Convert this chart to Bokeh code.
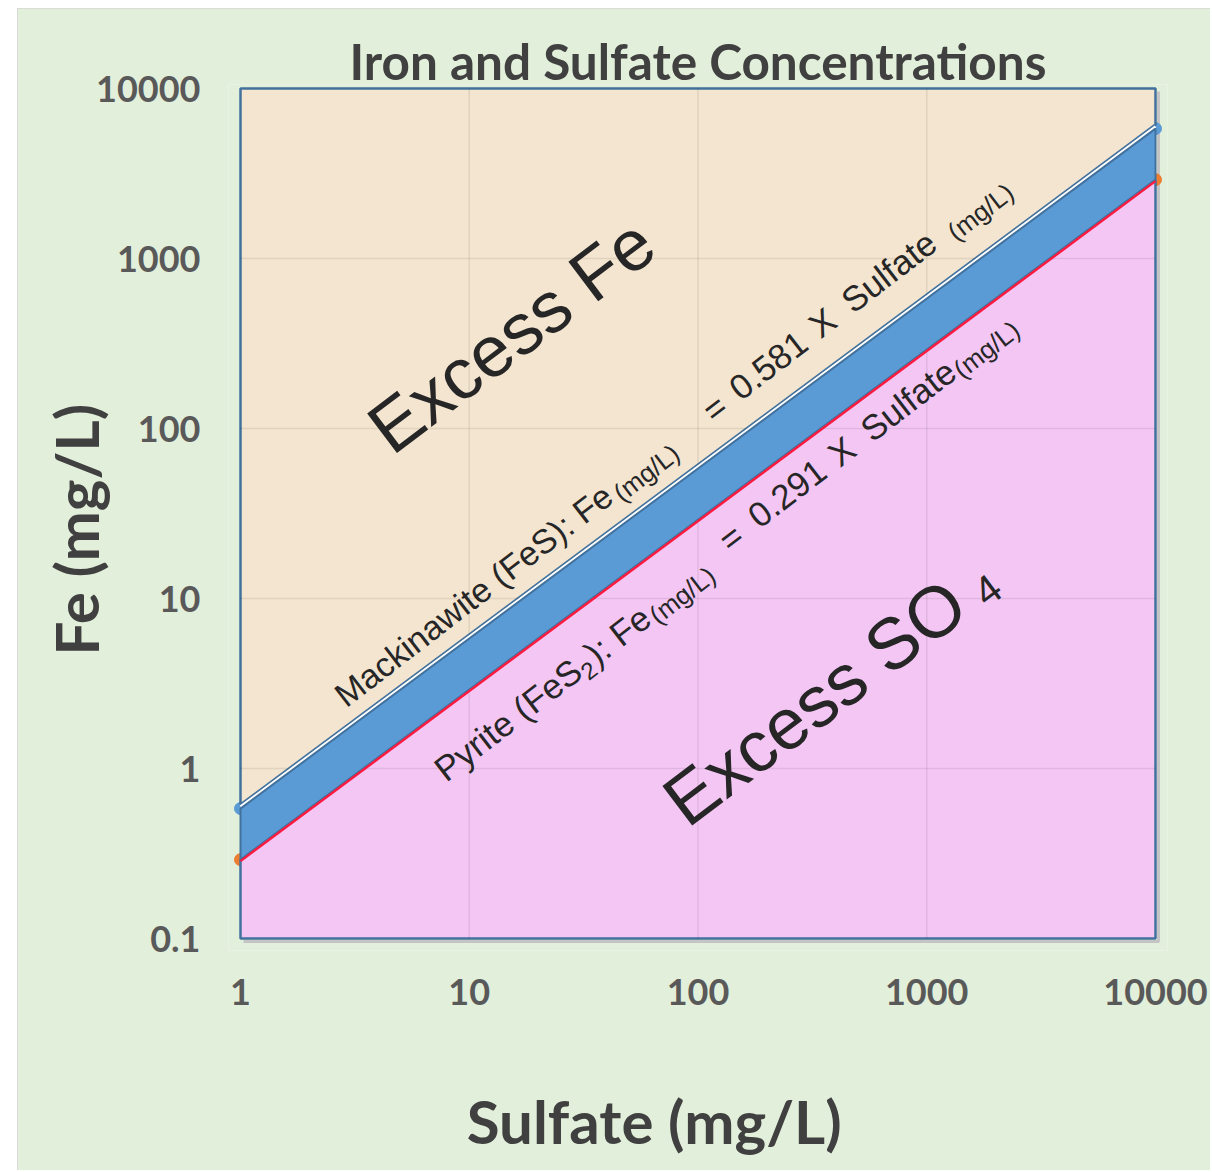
import math
from bokeh.plotting import figure
from bokeh.models import Label, FixedTicker, Range1d, NumeralTickFormatter, Title, Spacer
from bokeh.layouts import row, column
from bokeh.embed import file_html
from bokeh.resources import INLINE

# ---------------- data ----------------
sulfate_ends = [1, 10000]          # mg/L, ends of both stoichiometric lines
mackinawite_ratio = 0.581          # Fe = 0.581 x Sulfate (FeS)
pyrite_ratio = 0.291               # Fe = 0.291 x Sulfate (FeS2)
fe_floor = 0.1
fe_ceiling = 10000
x_ticks = [1, 10, 100, 1000, 10000]
x_tick_labels = ["1", "10", "100", "1000", "10000"]
y_ticks = [0.1, 1, 10, 100, 1000, 10000]
y_tick_labels = ["0.1", "1", "10", "100", "1000", "10000"]

mack_fe = [mackinawite_ratio * s for s in sulfate_ends]
pyr_fe = [pyrite_ratio * s for s in sulfate_ends]

# ---------------- layout ----------------
PX_DEC_X = 228.75
PX_DEC_Y = 170.0
PAD_L, PAD_R, PAD_T, PAD_B = 12, 12, 4, 12
lx0, lx1 = math.log10(sulfate_ends[0]), math.log10(sulfate_ends[1])
ly0, ly1 = math.log10(fe_floor), math.log10(fe_ceiling)
frame_w = round((lx1 - lx0) * PX_DEC_X + PAD_L + PAD_R)
frame_h = round((ly1 - ly0) * PX_DEC_Y + PAD_T + PAD_B)
OFF_X, OFF_Y = 17, 8                # white page strip left/top of the chart area
W, H = 1193, 1162
BL, BT = 240 - PAD_L - OFF_X, 88 - PAD_T - OFF_Y

GREEN = "#e2efda"
TAN = "#f3e5d0"
PINK = "#f4c6f4"
BAND = "#5b9bd5"
EDGE = "#41719c"
ORANGE = "#ed7d31"
HEAD = "#404040"

p = figure(width=W, height=H, x_axis_type="log", y_axis_type="log",
           output_backend="svg", toolbar_location=None,
           x_range=Range1d(10 ** (lx0 - PAD_L / PX_DEC_X), 10 ** (lx1 + PAD_R / PX_DEC_X)),
           y_range=Range1d(10 ** (ly0 - PAD_B / PX_DEC_Y), 10 ** (ly1 + PAD_T / PX_DEC_Y)),
           min_border_left=BL, min_border_top=BT,
           min_border_right=W - BL - frame_w, min_border_bottom=H - BT - frame_h)
p.styles = {"outline": "2px solid #d6d6d6", "outline-offset": "-2px"}
p.background_fill_color = GREEN
p.border_fill_color = GREEN
p.outline_line_color = None
p.grid.visible = False

# chart title
p.title.text = "Iron and Sulfate Concentrations"
p.title.align = "center"
p.title.text_font = "Lato"
p.title.text_font_style = "bold"
p.title.text_font_size = "49.5px"
p.title.text_color = HEAD
p.title.standoff = -12

# axes
for ax, ticks, labels in ((p.xaxis, x_ticks, x_tick_labels), (p.yaxis, y_ticks, y_tick_labels)):
    ax.ticker = FixedTicker(ticks=ticks, minor_ticks=[])
    ax.formatter = NumeralTickFormatter(format="0.[0]")
    ax.major_label_overrides = {t: l for t, l in zip(ticks, labels)}
    ax.axis_line_color = None
    ax.major_tick_line_color = None
    ax.minor_tick_line_color = None
    ax.major_tick_out = 0
    ax.major_label_text_font = "Lato"
    ax.major_label_text_font_style = "bold"
    ax.major_label_text_font_size = "36px"
    ax.major_label_text_color = "#595959"
p.xaxis.major_label_standoff = 28
p.yaxis.major_label_standoff = 28

# axis titles (x title sits left of centre, as in the original)
p.xaxis.axis_label = "Sulfate (mg/L)" + "\u00a0" * 6
p.xaxis.axis_label_standoff = 77
p.xaxis.axis_label_text_font = "Lato"
p.xaxis.axis_label_text_font_style = "bold"
p.xaxis.axis_label_text_font_size = "60px"
p.xaxis.axis_label_text_color = HEAD
p.add_layout(Title(text="Fe (mg/L)", align="left", offset=295, standoff=-37,
                   text_font="Lato", text_font_style="bold", text_font_size="60px",
                   text_color=HEAD), "left")

# drop shadow of the regions, then series end points (beneath the regions)
sh_x = 10 ** (3 / PX_DEC_X)
sh_y = 10 ** (3 / PX_DEC_Y)
p.line([sulfate_ends[0] * sh_x, sulfate_ends[1] * sh_x, sulfate_ends[1] * sh_x],
       [fe_floor / sh_y, fe_floor / sh_y, fe_ceiling / sh_y], line_color="#c4c4c4", line_width=3)
p.scatter(sulfate_ends, mack_fe, size=12, color=BAND)
p.scatter(sulfate_ends, pyr_fe, size=12, color=ORANGE)

# regions
gap1 = 10 ** (4 / PX_DEC_Y)   # tan border sits just above the FeS line
gap2 = 10 ** (2 / PX_DEC_Y)   # white separating line
p.patch([sulfate_ends[0], sulfate_ends[0], sulfate_ends[1], sulfate_ends[1]],
        [mack_fe[0] * gap1, fe_ceiling, fe_ceiling, mack_fe[1] * gap1],
        fill_color=TAN, line_color=EDGE, line_width=2.5)
p.patch([sulfate_ends[0], sulfate_ends[0], sulfate_ends[1], sulfate_ends[1]],
        [fe_floor, pyr_fe[0], pyr_fe[1], fe_floor],
        fill_color=PINK, line_color=EDGE, line_width=2.5)

# gridlines
inner_x = x_ticks[1:-1]
inner_y = y_ticks[1:-1]
p.segment(x0=inner_x, y0=[fe_floor] * len(inner_x), x1=inner_x, y1=[fe_ceiling] * len(inner_x),
          line_color="#000000", line_alpha=0.08, line_width=1.5)
p.segment(x0=[sulfate_ends[0]] * len(inner_y), y0=inner_y, x1=[sulfate_ends[1]] * len(inner_y), y1=inner_y,
          line_color="#000000", line_alpha=0.08, line_width=1.5)

p.line(sulfate_ends, [v * gap2 for v in mack_fe], line_color="white", line_width=2.5)
p.patch([sulfate_ends[0], sulfate_ends[1], sulfate_ends[1], sulfate_ends[0]],
        [mack_fe[0], mack_fe[1], pyr_fe[1], pyr_fe[0]],
        fill_color=BAND, line_color=EDGE, line_width=2)
p.line(sulfate_ends, [v / 10 ** (1.5 / PX_DEC_Y) for v in pyr_fe], line_color="#ff1a40", line_width=2.4)

# ---------------- annotations ----------------
TXT = "#262626"
FONT = "Liberation Sans"
BASE_FIX = 0.32   # lift so that the drawn baseline sits on the anchor


def place(x, y, angle_deg, pieces):
    a = math.radians(angle_deg)
    ca, sa = math.cos(a), math.sin(a)
    for text, size, along, perp in pieces:
        perp = perp + BASE_FIX * size
        p.add_layout(Label(x=x, y=y, text=text, angle=a,
                           x_offset=along * ca - perp * sa,
                           y_offset=along * sa + perp * ca,
                           text_font=FONT, text_font_size=f"{size}px",
                           text_color=TXT, text_align="left",
                           text_baseline="alphabetic"))


place(4.55, 70.0, 37, [("Excess Fe", 72, 0, 0)])
place(89.0, 0.45, 37, [("Excess SO", 72, 0, 0), ("4", 41, 372, -5)])
ANG = 37.6
place(2.88, 2.28, ANG, [
    ("Mackinawite (FeS): Fe", 34, 0, 0),
    ("(mg/L)", 26, 344, -6),
    ("=", 35, 465, 1),
    ("0.581", 35, 500, 2),
    ("X", 35, 601, 3),
    ("Sulfate", 35, 642, 3),
    ("(mg/L)", 26, 768, -3),
])
place(7.49, 0.909, ANG, [
    ("Pyrite (FeS", 35, 0, -8),
    ("2", 24, 175, -15),
    ("): Fe", 35, 190, -8),
    ("(mg/L)", 26, 264, -13),
    ("=", 35, 365, 0),
    ("0.291", 35, 403, 1),
    ("X", 35, 504, 1),
    ("Sulfate", 35, 545, 1),
    ("(mg/L)", 26, 655, -4),
])

layout = column(Spacer(height=OFF_Y, width=W + OFF_X),
                row(Spacer(width=OFF_X, height=H), p, spacing=0), spacing=0)
open("out.html", "w").write(file_html(layout, INLINE))
